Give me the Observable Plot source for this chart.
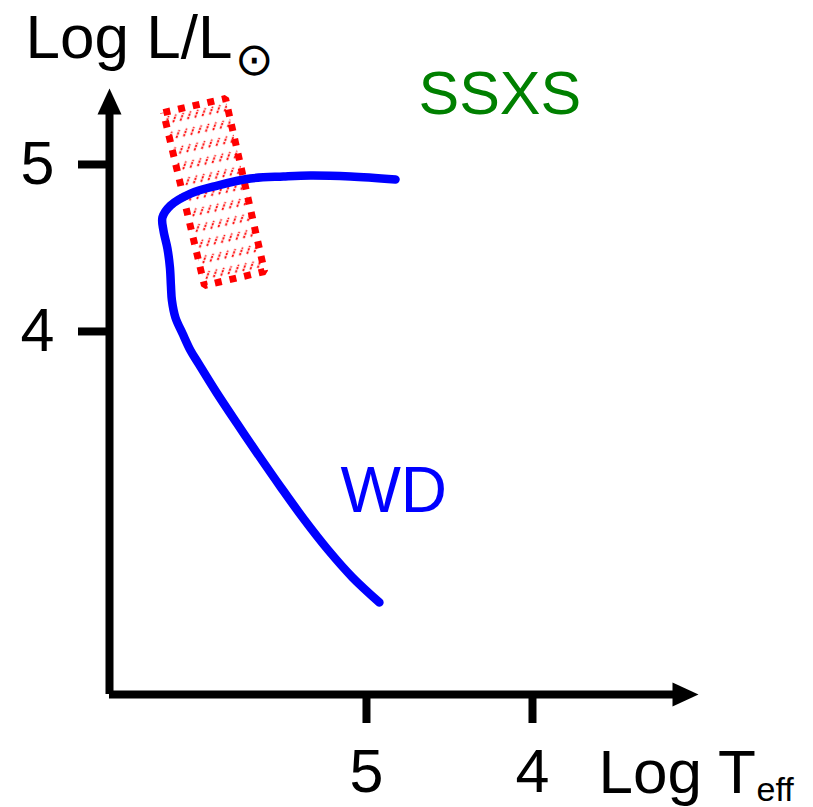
<!DOCTYPE html>
<html>
<head>
<meta charset="utf-8">
<script src="https://cdn.jsdelivr.net/npm/d3@7"></script>
<script src="https://cdn.jsdelivr.net/npm/@observablehq/plot@0.6"></script>
<style>
  html, body { margin: 0; padding: 0; background: #fff; }
</style>
</head>
<body>
<div id="chart"></div>
<script>
// Axis ticks
const xTicks = [5, 4];
const yTicks = [5, 4];
const xDomain = [6.548, 3.0];   // Log Teff (reversed)
const yDomain = [1.826, 5.455]; // Log L/Lsun

// White-dwarf track (Log Teff, Log L)
const wdLogT = [4.825, 5.096, 5.337, 5.500, 5.699, 5.898, 6.060, 6.181, 6.229, 6.223, 6.199, 6.184, 6.178, 6.172, 6.151, 6.108, 6.060, 6.012, 5.904, 5.780, 5.657, 5.515, 5.380, 5.229, 5.084, 4.922];
const wdLogL = [4.910, 4.928, 4.934, 4.928, 4.916, 4.874, 4.826, 4.754, 4.683, 4.605, 4.497, 4.383, 4.275, 4.186, 4.084, 3.988, 3.886, 3.808, 3.635, 3.449, 3.269, 3.066, 2.880, 2.689, 2.527, 2.377];

// SSXS region (closed polygon)
const boxLogT = [6.223, 5.849, 5.614, 5.976, 6.223];
const boxLogL = [5.311, 5.395, 4.359, 4.275, 5.311];

// Annotations
const labelText = ["SSXS", "WD"];
const labelLogT = [4.687, 5.157];
const labelLogL = [5.305, 2.916];
const labelColor = ["#008000", "#0000ff"];
const labelSize = [61, 64];

const wd = wdLogT.map((t, i) => ({t, l: wdLogL[i]}));
const box = boxLogT.map((t, i) => ({t, l: boxLogL[i]}));
const labels = labelText.map((s, i) => ({s, t: labelLogT[i], l: labelLogL[i], c: labelColor[i], f: labelSize[i]}));

const arrowHead = {
  draw(ctx) {
    ctx.moveTo(0, 0);
    ctx.lineTo(-12, 26);
    ctx.lineTo(12, 26);
    ctx.closePath();
  }
};

const font = "'Liberation Sans', Arial, Helvetica, sans-serif";

const svg = Plot.plot({
  width: 813,
  height: 807,
  marginLeft: 109,
  marginRight: 115,
  marginTop: 88,
  marginBottom: 113,
  style: {fontFamily: font, color: "black", background: "white", overflow: "visible"},
  x: {domain: xDomain, axis: null},
  y: {domain: yDomain, axis: null},
  marks: [
    // hatched region
    Plot.line(box, {x: "t", y: "l", curve: "linear", fill: "url(#hatch)", stroke: "#ff0000",
      strokeWidth: 7, strokeDasharray: "7 8", strokeLinecap: "butt", strokeLinejoin: "miter"}),
    // WD track
    Plot.line(wd, {x: "t", y: "l", curve: "catmull-rom", stroke: "#0000ff", strokeWidth: 8.5}),
    // axis lines
    Plot.ruleY([yDomain[0]], {stroke: "black", strokeWidth: 8, insetRight: 20}),
    Plot.ruleX([xDomain[0]], {stroke: "black", strokeWidth: 8, insetTop: 20}),
    Plot.dot([0], {frameAnchor: "top-left", symbol: arrowHead, fill: "black", stroke: "none"}),
    Plot.dot([0], {frameAnchor: "bottom-right", symbol: arrowHead, rotate: 90, fill: "black", stroke: "none"}),
    // ticks
    Plot.axisX(xTicks, {tickSize: 29, tickPadding: 25, fontSize: 61, strokeWidth: 8, label: null, tickFormat: d => String(d)}),
    Plot.axisY(yTicks, {tickSize: 31, tickPadding: 24, fontSize: 61, strokeWidth: 8, label: null, tickFormat: d => String(d)}),
    // axis titles
    Plot.text(["Log L/L"], {frameAnchor: "top-left", dx: -84, dy: -31, textAnchor: "start", lineAnchor: "bottom", fontSize: 62, fill: "black"}),
    Plot.text(["\u2299"], {frameAnchor: "top-left", dx: 125, dy: -14, textAnchor: "start", lineAnchor: "bottom", fontSize: 46, fill: "black"}),
    Plot.text(["Log T"], {frameAnchor: "bottom-right", dx: -100, dy: 98, textAnchor: "start", lineAnchor: "bottom", fontSize: 62, fill: "black"}),
    Plot.text(["eff"], {frameAnchor: "bottom-right", dx: 58, dy: 106, textAnchor: "start", lineAnchor: "bottom", fontSize: 34, fill: "black"}),
    // annotations
    Plot.text(labels, {x: "t", y: "l", text: "s", fill: d => d.c, fontSize: "f", textAnchor: "start", lineAnchor: "bottom"})
  ]
});

const ns = "http://www.w3.org/2000/svg";
const defs = document.createElementNS(ns, "defs");
const pat = document.createElementNS(ns, "pattern");
pat.setAttribute("id", "hatch");
pat.setAttribute("patternUnits", "userSpaceOnUse");
pat.setAttribute("width", "7.5");
pat.setAttribute("height", "16");
pat.setAttribute("patternTransform", "rotate(-12)");
const ln = document.createElementNS(ns, "line");
ln.setAttribute("x1", "1"); ln.setAttribute("y1", "11");
ln.setAttribute("x2", "5.5"); ln.setAttribute("y2", "4");
ln.setAttribute("stroke", "#ff0000");
ln.setAttribute("stroke-width", "1.8");
ln.setAttribute("stroke-dasharray", "2.5 1");
pat.appendChild(ln);
defs.appendChild(pat);
svg.insertBefore(defs, svg.firstChild);

document.getElementById("chart").appendChild(svg);
</script>
</body>
</html>
